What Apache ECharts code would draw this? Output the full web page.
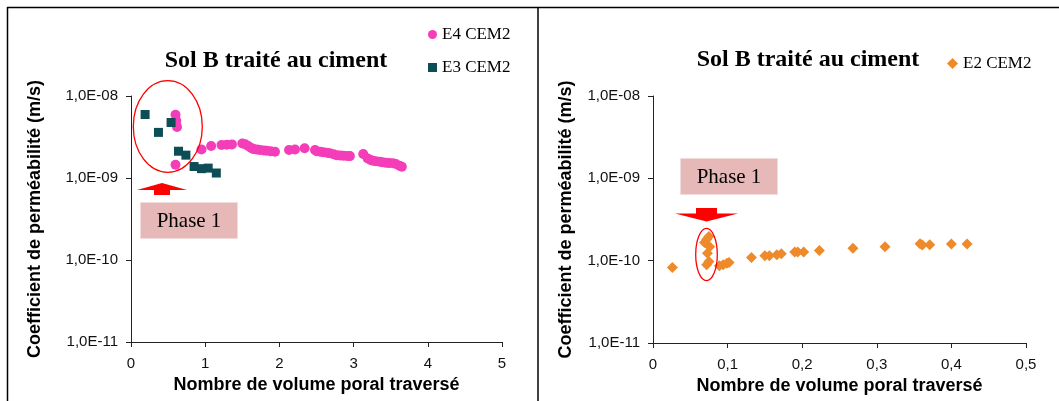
<!DOCTYPE html>
<html>
<head>
<meta charset="utf-8">
<script src="https://cdn.jsdelivr.net/npm/echarts@6/dist/echarts.min.js"></script>
<style>html,body{margin:0;padding:0;background:#fff;}#c{width:1059px;height:401px;}</style>
</head>
<body>
<div id="c"></div>
<script>
// ---- data ----
var titleText = 'Sol B traité au ciment';
var xName = 'Nombre de volume poral traversé';
var yName = 'Coefficient de perméabilité (m/s)';
var seriesNames = ['E4 CEM2', 'E3 CEM2', 'E2 CEM2'];

var e4X = [0.60,0.61,0.62,0.60,0.95,1.08,1.22,1.29,1.36,1.50,1.54,1.58,1.62,1.65,1.70,1.74,1.79,1.83,1.88,1.94,
           2.13,2.21,2.34,2.48,2.50,2.55,2.59,2.64,2.68,2.73,2.77,2.82,2.86,2.91,2.95,
           3.13,3.19,3.23,3.26,3.30,3.35,3.39,3.44,3.48,3.53,3.57,3.62,3.65];
var e4Y = [5.9e-9,5.0e-9,4.2e-9,1.45e-9,2.23e-9,2.45e-9,2.52e-9,2.55e-9,2.57e-9,2.64e-9,2.58e-9,2.45e-9,2.33e-9,2.25e-9,2.22e-9,2.19e-9,2.17e-9,2.15e-9,2.12e-9,2.09e-9,
           2.19e-9,2.23e-9,2.30e-9,2.19e-9,2.12e-9,2.09e-9,2.06e-9,2.03e-9,2.00e-9,1.95e-9,1.90e-9,1.88e-9,1.87e-9,1.86e-9,1.85e-9,
           1.96e-9,1.73e-9,1.66e-9,1.62e-9,1.60e-9,1.58e-9,1.56e-9,1.53e-9,1.52e-9,1.51e-9,1.48e-9,1.41e-9,1.37e-9];

var e3X = [0.19,0.37,0.54,0.64,0.74,0.85,0.95,1.04,1.15];
var e3Y = [5.95e-9,3.6e-9,4.75e-9,2.12e-9,1.9e-9,1.38e-9,1.3e-9,1.32e-9,1.15e-9];

var e2X = [0.026,0.069,0.072,0.075,0.076,0.073,0.075,0.072,0.089,0.094,0.099,0.102,0.132,0.150,0.156,0.166,0.172,
           0.190,0.194,0.202,0.223,0.268,0.311,0.358,0.361,0.371,0.400,0.421];
var e2Y = [8.24e-11,1.66e-10,1.82e-10,1.96e-10,1.48e-10,1.23e-10,9.75e-11,8.89e-11,8.65e-11,8.9e-11,9.3e-11,9.5e-11,1.09e-10,1.15e-10,1.15e-10,1.18e-10,1.21e-10,
           1.27e-10,1.27e-10,1.27e-10,1.33e-10,1.42e-10,1.48e-10,1.60e-10,1.55e-10,1.56e-10,1.59e-10,1.59e-10];

var yMin = 1e-11, yMax = 1e-8;
var xLeftMax = 5, xLeftStep = 1;
var xRightMax = 0.5, xRightStep = 0.1;
var phaseLabel = 'Phase 1';

// ---- build ----
function zip(xs, ys){ return xs.map(function(x,i){ return [x, ys[i]]; }); }
function yFmt(v){
  var e = Math.round(Math.log10(v));
  return '1,0E' + (e < 0 ? '-' : '+') + (Math.abs(e) < 10 ? '0' : '') + Math.abs(e);
}
function xFmt(v){ return v === 0 ? '0' : String(Math.round(v*10)/10).replace('.', ','); }

var axisLineStyle = {color:'#222', width:1};
var tickLabel = {fontFamily:'Liberation Sans', fontSize:15, color:'#111'};
var nameStyle = {fontFamily:'Liberation Sans', fontSize:18, fontWeight:'bold', color:'#000'};

function yAxis(gi, gap){
  return {type:'log', logBase:10, gridIndex:gi, min:yMin, max:yMax,
    axisLine:{show:true, lineStyle:axisLineStyle},
    axisTick:{show:true, length:5, lineStyle:axisLineStyle},
    axisLabel:Object.assign({formatter:yFmt, margin:13}, tickLabel),
    splitLine:{show:false}, minorTick:{show:false},
    name:yName, nameLocation:'middle', nameGap:gap, nameTextStyle:nameStyle};
}
function xAxis(gi, max, step){
  return {type:'value', gridIndex:gi, min:0, max:max, interval:step,
    axisLine:{show:true, onZero:false, lineStyle:axisLineStyle},
    axisTick:{show:true, length:5, lineStyle:axisLineStyle},
    axisLabel:Object.assign({formatter:xFmt, margin:14}, tickLabel),
    splitLine:{show:false},
    name:xName, nameLocation:'middle', nameGap:32, nameTextStyle:nameStyle};
}

var serifText = {fontFamily:'Liberation Serif', fontSize:17, color:'#000'};

var option = {
  animation:false,
  backgroundColor:'#fff',
  grid:[
    {left:131, top:96, width:371, height:246},
    {left:653, top:96, width:373, height:247}
  ],
  xAxis:[xAxis(0, xLeftMax, xLeftStep), xAxis(1, xRightMax, xRightStep)],
  yAxis:[yAxis(0, 87), yAxis(1, 78)],
  legend:[
    {data:[seriesNames[0], seriesNames[1]], orient:'vertical', left:423, top:21, itemGap:16,
     itemWidth:9, itemHeight:9, textStyle:serifText},
    {data:[seriesNames[2]], orient:'vertical', left:942, top:50, itemWidth:11, itemHeight:11, textStyle:serifText}
  ],
  series:[
    {name:seriesNames[0], type:'scatter', xAxisIndex:0, yAxisIndex:0, symbol:'circle', symbolSize:10,
     itemStyle:{color:'#f43db8', opacity:1}, data:zip(e4X, e4Y), z:3},
    {name:seriesNames[1], type:'scatter', xAxisIndex:0, yAxisIndex:0, symbol:'rect', symbolSize:9,
     itemStyle:{color:'#0d4d55', opacity:1}, data:zip(e3X, e3Y), z:4},
    {name:seriesNames[2], type:'scatter', xAxisIndex:1, yAxisIndex:1, symbol:'diamond', symbolSize:11,
     itemStyle:{color:'#ee8a2a', opacity:1}, data:zip(e2X, e2Y), z:3}
  ],
  graphic:[
    // panel borders
    {type:'line', shape:{x1:7, y1:7.5, x2:1059, y2:7.5}, style:{stroke:'#000', lineWidth:1.5}},
    {type:'line', shape:{x1:7.5, y1:7, x2:7.5, y2:401}, style:{stroke:'#000', lineWidth:1.5}},
    {type:'line', shape:{x1:538, y1:7, x2:538, y2:401}, style:{stroke:'#000', lineWidth:1.5}},
    // titles
    {type:'text', x:276, y:61, style:{text:titleText, font:'bold 24px "Liberation Serif"', fill:'#000', align:'center', verticalAlign:'middle'}},
    {type:'text', x:808, y:60, style:{text:titleText, font:'bold 24px "Liberation Serif"', fill:'#000', align:'center', verticalAlign:'middle'}},
    // left annotations
    {type:'ellipse', shape:{cx:167.8, cy:126.5, rx:34.5, ry:45.8}, style:{fill:'none', stroke:'#ff0000', lineWidth:1.3}, z:10},
    {type:'polygon', shape:{points:[[137,190],[162,183],[187,190]]}, style:{fill:'#ff0000'}, z:10},
    {type:'rect', shape:{x:154, y:188, width:16, height:7}, style:{fill:'#ff0000'}, z:10},
    {type:'rect', shape:{x:140.5, y:202.5, width:97, height:36}, style:{fill:'#e6b8b7', stroke:'#f2dcdb', lineWidth:1}, z:10},
    {type:'text', x:189, y:221, style:{text:phaseLabel, font:'21px "Liberation Serif"', fill:'#000', align:'center', verticalAlign:'middle'}, z:11},
    // right annotations
    {type:'rect', shape:{x:680.5, y:158.5, width:97, height:36}, style:{fill:'#e6b8b7', stroke:'#f2dcdb', lineWidth:1}, z:10},
    {type:'text', x:729, y:177, style:{text:phaseLabel, font:'21px "Liberation Serif"', fill:'#000', align:'center', verticalAlign:'middle'}, z:11},
    {type:'rect', shape:{x:696, y:208, width:21, height:7}, style:{fill:'#ff0000'}, z:10},
    {type:'polygon', shape:{points:[[675,213.5],[706.5,221.5],[738,213.5]]}, style:{fill:'#ff0000'}, z:10},
    {type:'ellipse', shape:{cx:706.5, cy:254.5, rx:10.8, ry:26.2}, style:{fill:'none', stroke:'#ff0000', lineWidth:1.3}, z:10}
  ]
};

var chart = echarts.init(document.getElementById('c'), null, {renderer:'canvas'});
chart.setOption(option);
</script>
</body>
</html>
